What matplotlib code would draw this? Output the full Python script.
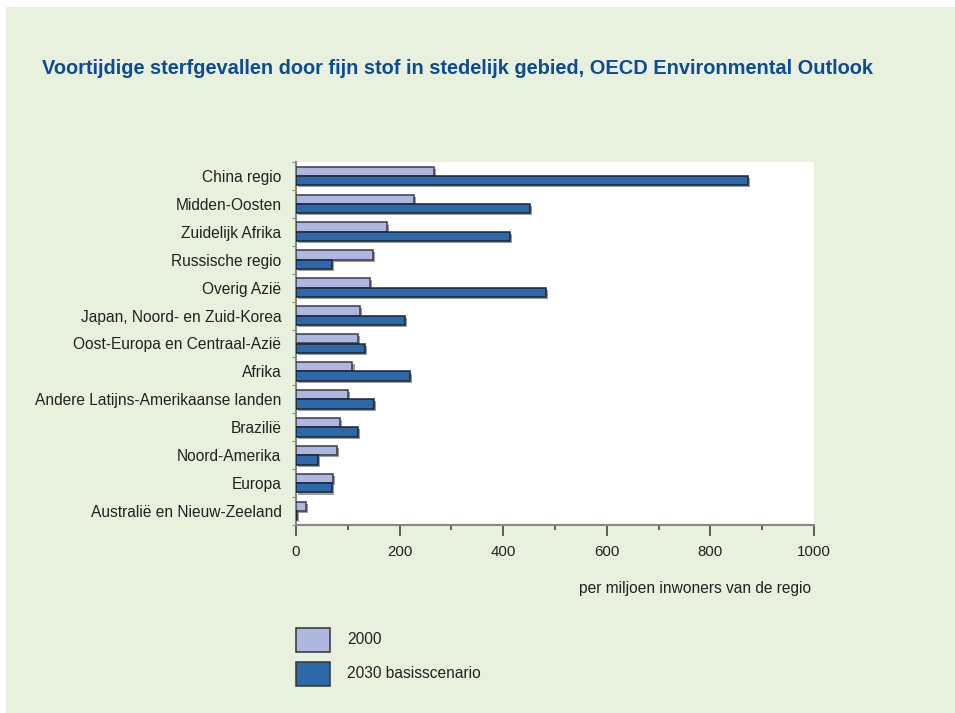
import matplotlib
matplotlib.use("Agg")
import matplotlib.pyplot as plt
import matplotlib.patheffects as pe
import numpy as np

regios = ["China regio", "Midden-Oosten", "Zuidelijk Afrika", "Russische regio",
          "Overig Azië", "Japan, Noord- en Zuid-Korea", "Oost-Europa en Centraal-Azië",
          "Afrika", "Andere Latijns-Amerikaanse landen", "Brazilië", "Noord-Amerika",
          "Europa", "Australië en Nieuw-Zeeland"]
waarden_2000 = [266, 227, 175, 148, 142, 123, 120, 109, 101, 85, 79, 71, 20]
waarden_2030 = [872, 451, 413, 70, 482, 210, 133, 220, 150, 119, 43, 70, 2]
xticks = [0, 200, 400, 600, 800, 1000]
legenda = ["2000", "2030 basisscenario"]

plt.rcParams['font.family'] = ['Liberation Sans', 'DejaVu Sans']

licht = '#adb7df'
donker = '#2d69a8'
groen = '#e8f1dd'
tekst = '#222222'

fig = plt.figure(figsize=(9.55, 7.13), dpi=100)
fig.patch.set_facecolor('white')
# groene achtergrond
fig.patches.append(plt.Rectangle((6/955, 0), 1, 1 - 7/713, transform=fig.transFigure,
                                 facecolor=groen, edgecolor='none', zorder=-10))

ax = fig.add_axes([296/955, 1 - 525/713, 518/955, 363/713])
ax.set_facecolor('white')

y = np.arange(len(regios))
h = 0.335
schaduw = [pe.withSimplePatchShadow(offset=(1.5, -1.5), shadow_rgbFace='#9c9c9c', alpha=1)]
ax.barh(y - h/2, waarden_2000, height=h, color=licht, edgecolor='#3a3a48', linewidth=1.1,
        path_effects=schaduw, zorder=3)
ax.barh(y + h/2, waarden_2030, height=h, color=donker, edgecolor='#1c2433', linewidth=1.1,
        path_effects=schaduw, zorder=3)

ax.set_xlim(0, 1000)
ax.set_ylim(len(regios) - 0.5, -0.5)
ax.set_yticks(y)
ax.set_yticklabels(regios, fontsize=11.2, color=tekst)
ax.set_yticks(np.arange(len(regios) + 1) - 0.5, minor=True)
ax.set_xticks(xticks)
ax.set_xticklabels([str(t) for t in xticks], fontsize=10.8, color=tekst)
ax.set_xticks(np.arange(100, 1000, 200), minor=True)
ax.tick_params(axis='y', which='major', length=0, pad=10.5)
ax.tick_params(axis='y', which='minor', length=3, color='#777777')
ax.tick_params(axis='x', which='major', length=8, width=1.2, color='#444444', pad=6.5)
ax.tick_params(axis='x', which='minor', length=3.6, width=1.2, color='#444444')
for kant in ['top', 'right']:
    ax.spines[kant].set_visible(False)
for kant in ['left', 'bottom']:
    ax.spines[kant].set_color('#888888')
    ax.spines[kant].set_linewidth(1.5)

fig.text(42/955, 1 - 69/713, "Voortijdige sterfgevallen door fijn stof in stedelijk gebied, OECD Environmental Outlook",
         fontsize=14.4, fontweight='bold', color='#0d4b96', va='center', ha='left')
fig.text(811/955, 1 - 588/713, "per miljoen inwoners van de regio", fontsize=11.2,
         color=tekst, ha='right', va='center')

# legenda
for i, (naam, kleur) in enumerate(zip(legenda, [licht, donker])):
    yc = 640 + 34 * i
    fig.patches.append(plt.Rectangle((296/955, 1 - (yc + 12)/713), 34/955, 24/713,
                                     transform=fig.transFigure, facecolor=kleur,
                                     edgecolor='#333333', linewidth=1.1))
    fig.text(347/955, 1 - yc/713, naam, fontsize=11.2, color=tekst, va='center')

fig.savefig("out.png", dpi=100)
